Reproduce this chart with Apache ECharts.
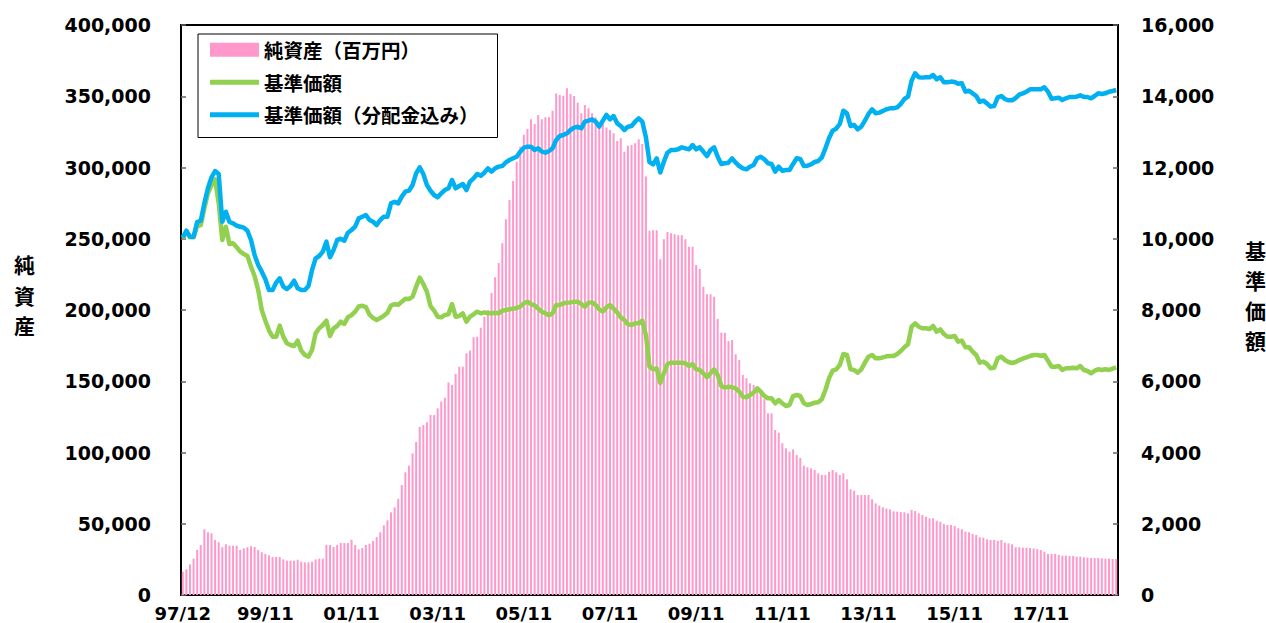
<!DOCTYPE html>
<html><head><meta charset="utf-8">
<script src="https://cdn.jsdelivr.net/npm/echarts@6/dist/echarts.min.js"></script>
<style>html,body{margin:0;padding:0;background:#fff}#c{width:1266px;height:623px}</style>
</head><body><div id="c"></div>
<script>
// Monthly data, 1997/12 .. 2019/08 (261 months)
const startYear = 1997, startMonth = 12, monthCount = 261;
const xTickLabels = ['97/12','99/11','01/11','03/11','05/11','07/11','09/11','11/11','13/11','15/11','17/11'];

// 純資産（百万円）
const netAssets = [
16350,18000,21500,25500,31600,35100,46100,44000,43300,38600,
37000,33500,35600,34600,34600,34600,31600,32700,33500,34200,
33700,31600,30000,28800,27800,26700,26700,26700,25000,24100,
24100,24100,24800,23400,22900,22900,23400,25000,25500,25500,
35100,35100,33700,35100,36500,36500,36500,38800,35100,32000,
33000,35100,36000,37900,40700,44000,48900,52400,58000,61500,
67400,77200,86100,90700,99400,107400,118100,119300,121200,126300,
126300,131000,135700,138500,149200,147400,155100,160200,160200,169600,
171500,180800,181300,187600,195300,200000,212000,223000,233000,246800,
263600,277200,290500,304000,314600,323000,327000,333800,330500,336800,
333800,335200,335200,339900,352000,350900,350400,355600,351600,350200,
345500,338000,343900,341500,338000,335200,331000,331000,328000,326300,
324000,318600,320500,311100,315300,315800,317000,319800,316500,293600,
255700,256000,256000,235600,249600,254700,253800,253100,252400,252400,
249600,244400,244400,231600,228800,216400,211000,211000,209300,193700,
184100,184100,178200,178900,168900,164900,154400,152100,148600,147400,
145000,141500,137400,127500,127500,115800,113900,106500,102900,100600,
102200,98200,96200,90700,89600,88900,87700,85400,84200,84200,
86500,87700,86100,84200,85400,81200,74200,73200,70200,70200,
70200,70200,67200,64300,62700,61500,60600,60100,58700,58500,
58200,58000,57300,59600,58900,57300,56100,54900,53800,53800,
52100,51400,49800,49100,49100,48400,46800,46100,44400,44000,
42800,42100,40500,40200,39100,38600,38600,38100,38600,36700,
36300,35600,33500,33500,33200,33200,33000,32700,32300,31600,
30400,28800,28800,28800,28100,27600,27600,27400,27400,26900,
26900,26400,26200,26000,26000,26000,25700,25500,25500,25300,
25300];

// 基準価額
const navPrice = [
10020,10200,10040,10040,10350,10380,10850,11275,11509,11669,
11000,9965,10338,9853,9872,9760,9637,9572,9516,9216,
8954,8561,8000,7700,7430,7251,7250,7560,7251,7065,
7018,6990,7139,6858,6737,6690,6877,7345,7486,7578,
7700,7270,7486,7551,7672,7607,7800,7855,7953,8100,
8120,8080,7870,7780,7719,7775,7836,7920,8126,8164,
8150,8233,8317,8309,8373,8654,8907,8730,8514,8112,
7981,7812,7794,7860,7879,8168,7812,7831,7907,7672,
7812,7879,7953,7907,7935,7907,7907,7925,7907,7981,
8000,8019,8037,8056,8093,8188,8233,8168,8131,8037,
7953,7907,7850,7907,8140,8140,8188,8205,8214,8233,
8233,8168,8093,8205,8214,8140,8019,7953,8075,8140,
8037,7935,7794,7719,7598,7578,7626,7626,7700,7300,
6409,6335,6363,5950,6223,6484,6521,6521,6521,6521,
6503,6428,6484,6335,6316,6223,6111,6223,6335,6175,
5867,5819,5847,5830,5802,5707,5566,5549,5614,5679,
5802,5707,5586,5521,5521,5381,5474,5381,5305,5333,
5580,5614,5586,5381,5333,5361,5398,5409,5493,5754,
6082,6296,6335,6456,6765,6737,6335,6316,6240,6335,
6521,6690,6737,6644,6644,6672,6700,6709,6709,6765,
6849,6953,7037,7531,7626,7531,7486,7486,7467,7551,
7391,7458,7326,7251,7251,7270,7111,7139,6953,6953,
6831,6737,6521,6549,6484,6363,6381,6644,6690,6596,
6540,6512,6540,6596,6633,6672,6709,6737,6737,6718,
6737,6577,6409,6409,6428,6316,6363,6363,6381,6363,
6428,6316,6288,6223,6296,6335,6316,6335,6316,6353,
6391];

// 基準価額（分配金込み）
const navWithDiv = [
10040,10226,10058,10058,10470,10507,10994,11416,11725,11902,
11818,10478,10759,10470,10433,10366,10338,10310,10226,9965,
9544,9263,9076,8862,8561,8561,8767,8890,8654,8589,
8673,8822,8609,8561,8561,8673,9123,9451,9516,9637,
9918,9480,9684,9965,10000,9946,10170,10245,10338,10572,
10619,10666,10526,10478,10386,10526,10619,10619,10994,11040,
10994,11181,11321,11349,11509,11837,12006,11818,11509,11349,
11228,11163,11275,11368,11416,11649,11416,11481,11537,11368,
11602,11696,11818,11771,11855,11977,11883,11977,12025,12042,
12146,12210,12258,12303,12444,12556,12584,12584,12491,12538,
12444,12416,12463,12538,12772,12884,12912,12959,13053,13118,
13146,13100,13286,13314,13353,13286,13146,13314,13474,13353,
13445,13240,13165,13053,13146,13165,13286,13381,13286,12850,
12150,12090,12258,11860,12163,12416,12491,12491,12510,12566,
12538,12510,12631,12510,12566,12444,12322,12491,12566,12303,
12098,12117,12135,12258,12135,12042,11977,11949,12023,12070,
12258,12303,12230,12117,12098,11883,12023,11911,11930,11930,
12100,12258,12240,12042,12051,12089,12154,12182,12286,12538,
12819,13033,13089,13221,13595,13521,13165,13193,13072,13146,
13314,13502,13633,13521,13540,13586,13633,13662,13662,13689,
13782,13923,13988,14437,14644,14532,14523,14532,14532,14596,
14476,14532,14392,14392,14411,14400,14350,14363,14128,14156,
14082,14007,13839,13876,13801,13708,13726,13970,14007,13923,
13885,13885,13951,14045,14082,14128,14195,14195,14195,14195,
14251,14128,13932,13942,13960,13895,13942,13979,13979,13988,
14026,13979,13979,13942,14007,14082,14063,14082,14128,14147,
14175];

const months = [];
for (let k = 0; k < monthCount; k++) {
  const m0 = startMonth - 1 + k;
  const y = startYear + Math.floor(m0 / 12);
  const m = (m0 % 12) + 1;
  months.push(String(y % 100).padStart(2, '0') + '/' + String(m).padStart(2, '0'));
}

const NUMFONT = "'DejaVu Sans','Noto Sans CJK JP',sans-serif";
const JPFONT = "'Noto Sans CJK JP','DejaVu Sans',sans-serif";
const LINE_ICON = 'path://M0,0 L49,0 L49,5 L0,5 Z';

const chart = echarts.init(document.getElementById('c'), null, {renderer: 'svg'});
chart.setOption({
  animation: false,
  backgroundColor: '#fff',
  textStyle: {fontFamily: NUMFONT},
  grid: {left: 181, right: 148, top: 25, bottom: 28, show: true, borderColor: '#000', borderWidth: 2,
         backgroundColor: 'transparent', containLabel: false, outerBoundsMode: 'none'},
  legend: {
    orient: 'vertical', left: 198, top: 34,
    padding: [6, 19, 13, 12], itemGap: 13, itemWidth: 49, itemHeight: 14,
    backgroundColor: '#fff', borderColor: '#000', borderWidth: 1, borderRadius: 0,
    textStyle: {fontSize: 19.5, fontWeight: 'bold', color: '#000', fontFamily: JPFONT},
    data: [
      {name: '純資産（百万円）', icon: 'rect'},
      {name: '基準価額', icon: LINE_ICON},
      {name: '基準価額（分配金込み）', icon: LINE_ICON}
    ]
  },
  xAxis: {
    type: 'category', data: months, boundaryGap: true,
    axisLine: {lineStyle: {color: '#000', width: 2}},
    axisTick: {show: false},
    axisLabel: {interval: (i, v) => xTickLabels.includes(v), fontSize: 18, fontWeight: 'bold', color: '#000', margin: 9, fontFamily: NUMFONT}
  },
  yAxis: [
    {
      type: 'value', min: 0, max: 400000, interval: 50000, position: 'left',
      axisLine: {show: true, lineStyle: {color: '#000', width: 2}},
      axisTick: {show: true, inside: true, length: 5, lineStyle: {color: '#666', width: 1.5}},
      splitLine: {show: false},
      axisLabel: {formatter: v => v.toLocaleString('en-US'), fontSize: 19, fontWeight: 'bold', color: '#000', margin: 30, fontFamily: NUMFONT},
      name: '純\n資\n産\n ', nameLocation: 'middle', nameRotate: 0, nameGap: 146,
      nameTextStyle: {fontSize: 21, fontWeight: 'bold', color: '#000', lineHeight: 30.5, fontFamily: JPFONT}
    },
    {
      type: 'value', min: 0, max: 16000, interval: 2000, position: 'right',
      axisLine: {show: true, lineStyle: {color: '#000', width: 2}},
      axisTick: {show: true, inside: true, length: 5, lineStyle: {color: '#666', width: 1.5}},
      splitLine: {show: false},
      axisLabel: {formatter: v => v.toLocaleString('en-US'), fontSize: 19, fontWeight: 'bold', color: '#000', margin: 23, fontFamily: NUMFONT},
      name: '基\n準\n価\n額\n ', nameLocation: 'middle', nameRotate: 0, nameGap: 127,
      nameTextStyle: {fontSize: 21, fontWeight: 'bold', color: '#000', lineHeight: 30, fontFamily: JPFONT}
    }
  ],
  series: [
    {name: '純資産（百万円）', type: 'bar', yAxisIndex: 0, data: netAssets, barWidth: 2, itemStyle: {color: '#FF99CC'}},
    {name: '基準価額', type: 'line', yAxisIndex: 1, data: navPrice, symbol: 'none', lineStyle: {color: '#92D050', width: 4.5, join: 'round'}, itemStyle: {color: '#92D050'}},
    {name: '基準価額（分配金込み）', type: 'line', yAxisIndex: 1, data: navWithDiv, symbol: 'none', lineStyle: {color: '#00B0F0', width: 4.5, join: 'round'}, itemStyle: {color: '#00B0F0'}}
  ]
});
</script>
</body></html>
